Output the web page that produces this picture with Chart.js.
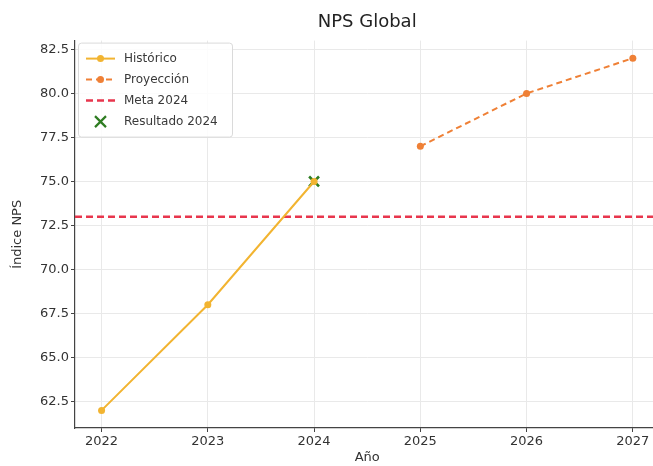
<!DOCTYPE html>
<html>
<head>
<meta charset="utf-8">
<script src="https://cdn.jsdelivr.net/npm/chart.js@4.4.0/dist/chart.umd.min.js"></script>
<style>
  html, body { margin: 0; padding: 0; background: #fff; overflow: hidden; }
  canvas { display: block; }
</style>
</head>
<body>
<canvas id="npsChart" width="669" height="466"></canvas>
<script>
// data
const years = [2022, 2023, 2024, 2025, 2026, 2027];
const histYears = [2022, 2023, 2024];
const histValues = [62, 68, 75];
const projYears = [2025, 2026, 2027];
const projValues = [77, 80, 82];
const metaValue = 73;
const resultYear = 2024;
const resultValue = 75;
const yTicks = [62.5, 65.0, 67.5, 70.0, 72.5, 75.0, 77.5, 80.0, 82.5];

const xMin = 2021.75, xMax = 2027.25;
const font = 'DejaVu Sans';

const toPts = (xs, ys) => xs.map((x, i) => ({ x: x, y: ys[i] }));

// legend drawn inside the plot, matplotlib style
const boxLegend = {
  id: 'boxLegend',
  afterDraw(chart) {
    const ctx = chart.ctx;
    const a = chart.chartArea;
    const x0 = a.left + 3, y0 = a.top + 2, w = 154, h = 94;
    ctx.save();
    ctx.fillStyle = 'rgba(255,255,255,0.85)';
    ctx.strokeStyle = '#dadada';
    ctx.lineWidth = 1;
    ctx.beginPath();
    ctx.roundRect(x0 + 0.5, y0 + 0.5, w, h, 3);
    ctx.fill();
    ctx.stroke();
    ctx.font = '12px ' + font;
    ctx.textBaseline = 'middle';
    chart.data.datasets.forEach((ds, i) => {
      const cy = y0 + 16 + i * 21;
      const lx = x0 + 8, rx = x0 + 37;
      if (ds.showLine !== false) {
        ctx.strokeStyle = ds.borderColor;
        ctx.lineWidth = ds.borderWidth;
        ctx.setLineDash(ds.borderDash || []);
        ctx.beginPath();
        ctx.moveTo(lx, cy);
        ctx.lineTo(rx, cy);
        ctx.stroke();
        ctx.setLineDash([]);
      }
      const mx = (lx + rx) / 2;
      if (ds.pointStyle === 'crossRot') {
        ctx.strokeStyle = ds.pointBorderColor;
        ctx.lineWidth = 2.2;
        const r = 5.5;
        ctx.beginPath();
        ctx.moveTo(mx - r, cy - r); ctx.lineTo(mx + r, cy + r);
        ctx.moveTo(mx - r, cy + r); ctx.lineTo(mx + r, cy - r);
        ctx.stroke();
      } else if (ds.pointRadius > 0) {
        ctx.fillStyle = ds.pointBackgroundColor;
        ctx.beginPath();
        ctx.arc(mx, cy, ds.pointRadius, 0, Math.PI * 2);
        ctx.fill();
      }
      ctx.fillStyle = '#3a3a3a';
      ctx.fillText(ds.label, x0 + 46, cy);
    });
    ctx.restore();
  }
};

new Chart(document.getElementById('npsChart'), {
  type: 'line',
  data: {
    datasets: [
      {
        label: 'Histórico',
        data: toPts(histYears, histValues),
        borderColor: '#f2b431',
        backgroundColor: '#f2b431',
        pointBackgroundColor: '#f2b431',
        pointBorderWidth: 0,
        borderWidth: 2,
        pointRadius: 3.5,
        tension: 0
      },
      {
        label: 'Proyección',
        data: toPts(projYears, projValues),
        borderColor: '#ef8036',
        backgroundColor: '#ef8036',
        pointBackgroundColor: '#ef8036',
        pointBorderWidth: 0,
        borderWidth: 2,
        borderDash: [6, 4],
        pointRadius: 3.5,
        tension: 0
      },
      {
        label: 'Meta 2024',
        data: [{ x: xMin, y: metaValue }, { x: xMax, y: metaValue }],
        borderColor: '#e8364d',
        borderWidth: 2.5,
        borderDash: [7, 4],
        pointRadius: 0,
        pointHoverRadius: 0
      },
      {
        label: 'Resultado 2024',
        data: [{ x: resultYear, y: resultValue }],
        showLine: false,
        pointStyle: 'crossRot',
        pointRadius: 7,
        pointBorderWidth: 2.6,
        pointBorderColor: '#2f7d22',
        borderColor: '#2f7d22',
        pointBackgroundColor: '#2f7d22'
      }
    ]
  },
  options: {
    responsive: false,
    animation: false,
    layout: { padding: 0 },
    plugins: {
      legend: { display: false },
      tooltip: { enabled: false },
      title: {
        display: true,
        fullSize: false,
        text: 'NPS Global',
        color: '#222',
        font: { family: font, size: 18, weight: 'normal' },
        padding: { top: 12, bottom: 7 }
      }
    },
    scales: {
      x: {
        type: 'linear',
        min: xMin,
        max: xMax,
        afterBuildTicks: s => { s.ticks = years.map(v => ({ value: v })); },
        afterFit: s => { s.height = 38; },
        ticks: {
          color: '#333',
          font: { family: font, size: 13 },
          padding: 2,
          maxRotation: 0,
          callback: v => String(v)
        },
        grid: { color: '#e9e9e9', tickColor: '#444', tickLength: 4 },
        border: { color: '#444', width: 1.2 },
        title: {
          display: true,
          text: 'Año',
          color: '#333',
          font: { family: font, size: 13 },
          padding: { top: 0, bottom: 1 }
        }
      },
      y: {
        min: 61,
        max: 83,
        afterBuildTicks: s => { s.ticks = yTicks.map(v => ({ value: v })); },
        afterFit: s => { s.width = 75; },
        ticks: {
          color: '#333',
          font: { family: font, size: 13 },
          padding: 2,
          callback: v => v.toFixed(1)
        },
        grid: { color: '#e9e9e9', tickColor: '#444', tickLength: 4 },
        border: { color: '#444', width: 1.2 },
        title: {
          display: true,
          text: 'Índice NPS',
          color: '#333',
          font: { family: font, size: 13 },
          padding: { top: 10, bottom: 0 }
        }
      }
    }
  },
  plugins: [boxLegend]
});
</script>
</body>
</html>
